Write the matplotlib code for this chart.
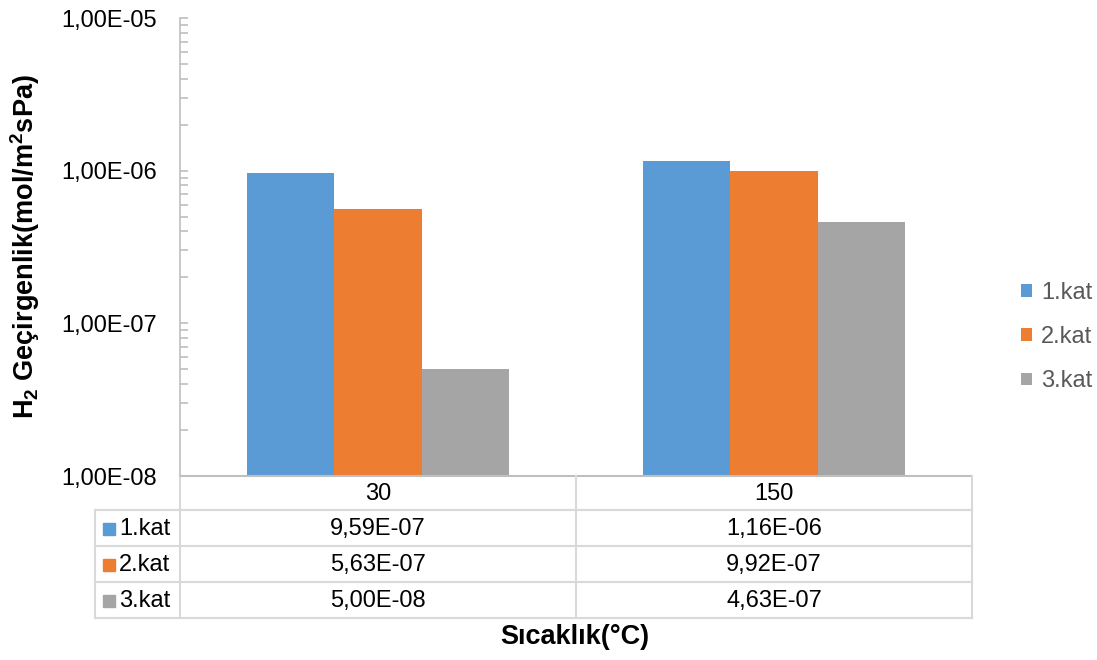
import numpy as np
import matplotlib
matplotlib.use("Agg")
import matplotlib.pyplot as plt
from matplotlib.patches import Patch
from matplotlib.ticker import FuncFormatter, LogLocator, NullFormatter

plt.rcParams['font.family'] = ['Liberation Sans', 'DejaVu Sans']
plt.rcParams['mathtext.default'] = 'regular'

# data
temps = ['30', '150']
series = ['1.kat', '2.kat', '3.kat']
kat1 = [9.59e-07, 1.16e-06]
kat2 = [5.63e-07, 9.92e-07]
kat3 = [5.00e-08, 4.63e-07]
colors = ['#5B9BD5', '#ED7D31', '#A5A5A5']


def excel_sci(v):
    # 9.59e-07 -> "9,59E-07"
    s = '%.2E' % v
    return s.replace('.', ',')


fs = 17
fig = plt.figure(figsize=(10.97, 6.6), dpi=100)
ax = fig.add_axes([180 / 1097, 1 - 476 / 660, 792 / 1097, 458 / 660])

x = np.arange(len(temps))
w = 0.221
values = [kat1, kat2, kat3]
for i, vals in enumerate(values):
    ax.bar(x + (i - 1) * w, vals, w, color=colors[i], edgecolor='none', zorder=2)

ax.set_yscale('log')
ax.set_ylim(1e-8, 1e-5)
ax.set_xlim(-0.5, 1.5)
ax.yaxis.set_major_locator(LogLocator(base=10))
ax.yaxis.set_minor_locator(LogLocator(base=10, subs=np.arange(2, 10)))
ax.yaxis.set_minor_formatter(NullFormatter())
ax.yaxis.set_major_formatter(FuncFormatter(lambda v, p: excel_sci(v)))
ax.tick_params(axis='y', which='both', direction='in', color='#BFBFBF', width=1.2,
               labelsize=fs, pad=16.5)
ax.tick_params(axis='y', which='major', length=6)
ax.tick_params(axis='y', which='minor', length=6)
ax.set_xticks([])

for s in ['top', 'right', 'bottom']:
    ax.spines[s].set_visible(False)
ax.spines['left'].set_color('#BFBFBF')
ax.spines['left'].set_linewidth(1.2)

# data table under the plot
H = 458.0
def yf(py):
    return (476 - py) / H

grid = '#D9D9D9'
rows = [476, 510, 546, 582, 618]
lbl_left = (95 - 180) / 792.0
kw = dict(transform=ax.transAxes, clip_on=False, color=grid, lw=1.5)
ax.plot([0, 1], [yf(476), yf(476)], color='#BFBFBF', lw=1.5,
        transform=ax.transAxes, clip_on=False)
ax.plot([0, 1], [yf(510), yf(510)], **kw)
for py in rows[2:]:
    ax.plot([lbl_left, 1], [yf(py), yf(py)], **kw)
ax.plot([lbl_left, 1], [yf(510), yf(510)], **kw)
ax.plot([0, 0], [yf(476), yf(618)], **kw)
ax.plot([0.5, 0.5], [yf(476), yf(618)], **kw)
ax.plot([1, 1], [yf(476), yf(618)], **kw)
ax.plot([lbl_left, lbl_left], [yf(510), yf(618)], **kw)

for j, t in enumerate(temps):
    ax.text(0.25 + 0.5 * j, yf(494), t, transform=ax.transAxes,
            ha='center', va='center', fontsize=fs)
for i, vals in enumerate(values):
    yc = yf((rows[i + 1] + rows[i + 2]) / 2 + 1)
    ax.plot([(109 - 180) / 792.0], [yc], marker='s', ms=8.5, color=colors[i],
            transform=ax.transAxes, clip_on=False, ls='none')
    ax.text((119 - 180) / 792.0, yc, series[i], transform=ax.transAxes,
            ha='left', va='center', fontsize=fs)
    for j, v in enumerate(vals):
        ax.text(0.25 + 0.5 * j, yc, excel_sci(v), transform=ax.transAxes,
                ha='center', va='center', fontsize=fs)

# axis labels
fig.text(575 / 1097, 1 - 637 / 660, 'Sıcaklık(°C)', ha='center', va='center',
         fontsize=19.5, fontweight='bold')
fig.text(25 / 1097, 1 - 247 / 660, 'H$_2$ Geçirgenlik(mol/m$^2$sPa)', ha='center',
         va='center', rotation=90, fontsize=19.5, fontweight='bold')

# legend
handles = [Patch(facecolor=c, edgecolor='none') for c in colors]
leg = fig.legend(handles, series, loc='center left',
                 bbox_to_anchor=(1000 / 1097, 1 - 337 / 660),
                 frameon=False, fontsize=fs, handlelength=0.45, handleheight=0.45,
                 handletextpad=0.4, labelspacing=0.95)
for t in leg.get_texts():
    t.set_color('#595959')

fig.savefig('out.png', dpi=100)
